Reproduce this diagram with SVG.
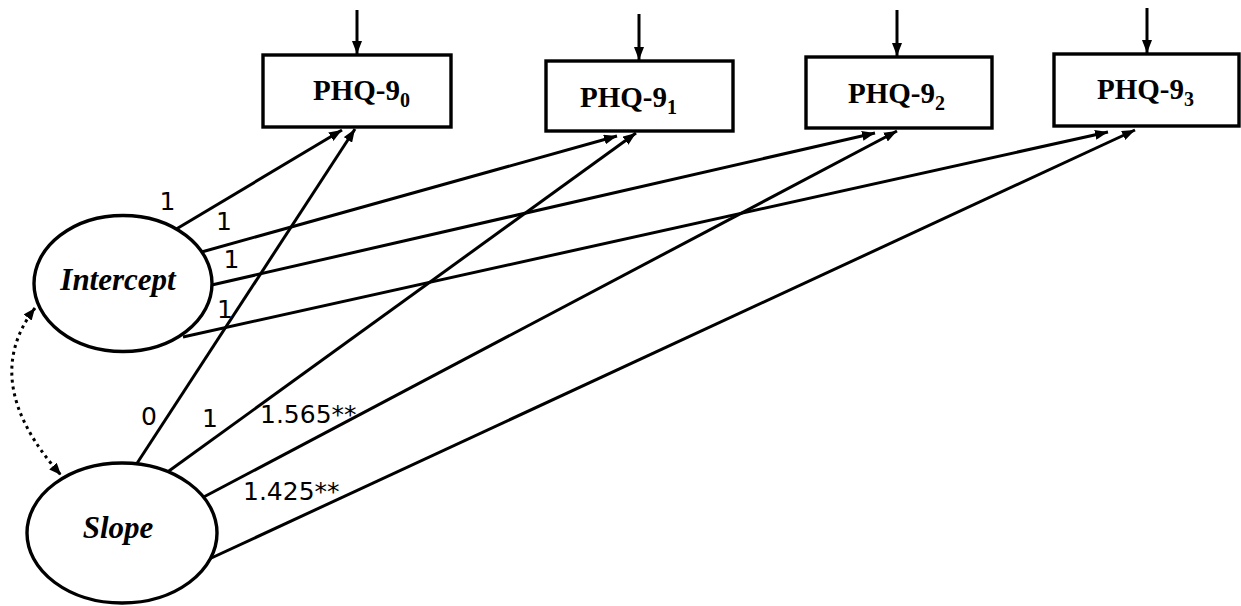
<svg xmlns="http://www.w3.org/2000/svg" width="1241" height="606" viewBox="0 0 1241 606">
<style>
.box{fill:#fff;stroke:#000;stroke-width:3.4}
.lat{fill:#fff;stroke:#000;stroke-width:3.4}
.phq{font-family:"Liberation Serif","Times New Roman",serif;font-weight:bold;font-size:29px;fill:#000}
.sub{font-size:20px}
.latt{font-family:"Liberation Serif","Times New Roman",serif;font-weight:bold;font-style:italic;font-size:31px;fill:#000;text-anchor:middle}
.conn line,.conn path{stroke:#000;stroke-width:3;fill:none}
.lbl{font-family:"DejaVu Sans",sans-serif;font-size:25px;fill:#000}
.mid{text-anchor:middle}
</style>
<defs>
<marker id="ah" viewBox="0 0 13 10" refX="13" refY="5" markerWidth="13" markerHeight="10" markerUnits="userSpaceOnUse" orient="auto">
<path d="M0,0 L13,5 L0,10 z" fill="#000"/>
</marker>
<marker id="ahd" viewBox="0 0 12 10" refX="12" refY="5" markerWidth="12" markerHeight="10" markerUnits="userSpaceOnUse" orient="auto-start-reverse">
<path d="M0,0 L12,5 L0,10 z" fill="#000"/>
</marker>
</defs>
<g id="connectors" class="conn">
<line x1="357" y1="10" x2="357" y2="54" marker-end="url(#ah)"/>
<line x1="639" y1="14" x2="639" y2="60" marker-end="url(#ah)"/>
<line x1="897" y1="10" x2="897" y2="56" marker-end="url(#ah)"/>
<line x1="1147" y1="8" x2="1147" y2="53" marker-end="url(#ah)"/>
<line x1="173" y1="231" x2="342" y2="130" marker-end="url(#ah)"/>
<line x1="198" y1="253" x2="617" y2="136" marker-end="url(#ah)"/>
<line x1="203" y1="287" x2="875" y2="133" marker-end="url(#ah)"/>
<line x1="183" y1="337" x2="1108" y2="132" marker-end="url(#ah)"/>
<line x1="132" y1="471" x2="355" y2="129" marker-end="url(#ah)"/>
<line x1="162" y1="476" x2="636" y2="133" marker-end="url(#ah)"/>
<line x1="198" y1="500" x2="897" y2="131" marker-end="url(#ah)"/>
<line x1="207" y1="560" x2="1135" y2="130" marker-end="url(#ah)"/>
<path d="M35,308 Q-22,382 61,475" stroke-dasharray="3 4" stroke-width="3" marker-start="url(#ahd)" marker-end="url(#ahd)"/>
</g>
<g id="phq0">
<rect class="box" x="263" y="55" width="188" height="72"/>
<text class="phq" x="313" y="100">PHQ-9<tspan class="sub" dy="7">0</tspan></text>
</g>
<g id="phq1">
<rect class="box" x="546" y="61" width="187" height="70"/>
<text class="phq" x="580" y="107">PHQ-9<tspan class="sub" dy="7">1</tspan></text>
</g>
<g id="phq2">
<rect class="box" x="806" y="57" width="186" height="71"/>
<text class="phq" x="848" y="103">PHQ-9<tspan class="sub" dy="7">2</tspan></text>
</g>
<g id="phq3">
<rect class="box" x="1054" y="54" width="185" height="72"/>
<text class="phq" x="1097" y="99">PHQ-9<tspan class="sub" dy="7">3</tspan></text>
</g>
<g id="intercept">
<ellipse class="lat" cx="123" cy="283.5" rx="89" ry="68"/>
<text class="latt" x="118" y="290">Intercept</text>
</g>
<g id="slope">
<ellipse class="lat" cx="122" cy="533" rx="95" ry="70"/>
<text class="latt" x="118" y="538">Slope</text>
</g>
<g id="labels">
<text class="lbl mid" x="167.5" y="210">1</text>
<text class="lbl mid" x="224" y="230">1</text>
<text class="lbl mid" x="231.5" y="268">1</text>
<text class="lbl mid" x="225" y="318">1</text>
<text class="lbl mid" x="149" y="425">0</text>
<text class="lbl mid" x="210" y="427">1</text>
<text class="lbl" x="260" y="423">1.565**</text>
<text class="lbl" x="243" y="500">1.425**</text>
</g>
</svg>
